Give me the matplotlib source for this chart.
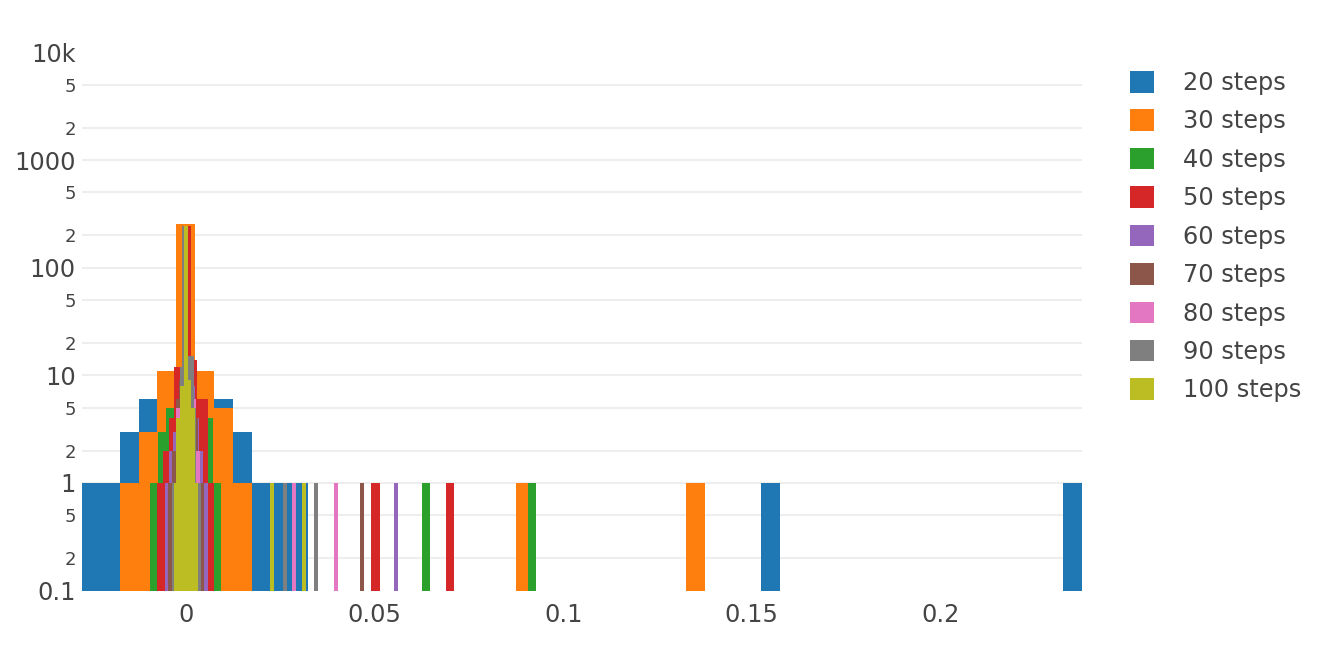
import matplotlib
matplotlib.use("Agg")
import matplotlib.pyplot as plt

# histogram bins: left edge of each bin and its count
labels = ["20 steps", "30 steps", "40 steps", "50 steps", "60 steps",
          "70 steps", "80 steps", "90 steps", "100 steps"]
bin_width = [0.005, 0.005, 0.0021, 0.0015, 0.001, 0.001, 0.001, 0.001, 0.001]

s20_left = [-0.0275, -0.0225, -0.0175, -0.0125, -0.0075, -0.0025, 0.0025,
            0.0075, 0.0125, 0.0175, 0.0225, 0.0275, 0.1525, 0.2325]
s20_count = [1, 1, 3, 6, 9, 240, 9, 6, 3, 1, 1, 1, 1, 1]

s30_left = [-0.0175, -0.0125, -0.0075, -0.0025, 0.0025, 0.0075, 0.0125,
            0.0875, 0.1325]
s30_count = [1, 3, 11, 255, 11, 5, 1, 1, 1]

s40_left = [-0.0095, -0.0074, -0.0053, -0.0032, -0.0011, 0.0010, 0.0031,
            0.0052, 0.0073, 0.0627, 0.0907]
s40_count = [1, 3, 5, 8, 240, 8, 5, 4, 1, 1, 1]

s50_left = [-0.0075, -0.006, -0.0045, -0.003, -0.0015, 0.0, 0.0015, 0.003,
            0.0045, 0.006, 0.049, 0.050, 0.069, 0.0695]
s50_count = [1, 2, 4, 12, 10, 245, 14, 6, 6, 1, 1, 1, 1, 1]

s60_left = [-0.0055, -0.0045, -0.0035, -0.0025, -0.0015, -0.0005, 0.0005,
            0.0015, 0.0025, 0.0035, 0.0048, 0.0553]
s60_count = [1, 2, 3, 5, 9, 240, 11, 8, 4, 2, 1, 1]

s70_left = [-0.0047, -0.0037, -0.0027, -0.0017, -0.0007, 0.0003, 0.0013,
            0.0023, 0.0038, 0.0462]
s70_count = [1, 2, 6, 9, 240, 12, 7, 4, 1, 1]

s80_left = [-0.0026, -0.0016, -0.0006, 0.0004, 0.0016, 0.0028, 0.0282,
            0.0393]
s80_count = [5, 9, 240, 12, 6, 2, 1, 1]

s90_left = [-0.0036, -0.0026, -0.0016, -0.0010, 0.0003, 0.0011, 0.0016,
            0.0030, 0.0257, 0.0340]
s90_count = [1, 4, 12, 245, 15, 15, 5, 1, 1, 1]

s100_left = [-0.0031, -0.0025, -0.0015, -0.0005, 0.0005, 0.0015, 0.0022,
             0.0224, 0.0308]
s100_count = [1, 4, 8, 245, 9, 5, 1, 1, 1]

series = [(s20_left, s20_count), (s30_left, s30_count), (s40_left, s40_count),
          (s50_left, s50_count), (s60_left, s60_count), (s70_left, s70_count),
          (s80_left, s80_count), (s90_left, s90_count), (s100_left, s100_count)]

colors = ["#1f77b4", "#ff7f0e", "#2ca02c", "#d62728", "#9467bd",
          "#8c564b", "#e377c2", "#7f7f7f", "#bcbd22"]

y_major = [0.1, 1, 10, 100, 1000, 10000]
y_major_text = ["0.1", "1", "10", "100", "1000", "10k"]
y_minor = [0.2, 0.5, 2, 5, 20, 50, 200, 500, 2000, 5000]
y_minor_text = ["2", "5"] * 5
x_ticks = [0, 0.05, 0.1, 0.15, 0.2]
x_tick_text = ["0", "0.05", "0.1", "0.15", "0.2"]

plt.rcParams["font.family"] = ["DejaVu Sans"]
W, H = 1318, 656
fig = plt.figure(figsize=(W / 100, H / 100), dpi=100)
ax = fig.add_axes([82 / W, 1 - 590.5 / H, 1000 / W, 538 / H])
ax.set_yscale("log")

for (left, count), w, c, lab in zip(series, bin_width, colors, labels):
    ax.bar(left, count, width=w, align="edge", color=c, linewidth=0,
           label=lab, zorder=2)

ax.set_xlim(-0.0275, 0.2375)
ax.set_ylim(0.1, 10000)

ax.set_yticks(y_major, y_major_text)
ax.set_yticks(y_minor, y_minor_text, minor=True)
ax.set_xticks(x_ticks, x_tick_text)

ax.tick_params(axis="y", which="major", length=0, pad=4.5, labelsize=17.3,
               labelcolor="#444444")
ax.tick_params(axis="y", which="minor", length=0, pad=4.5, labelsize=13,
               labelcolor="#444444")
ax.tick_params(axis="x", length=0, pad=9, labelsize=17.3, labelcolor="#444444")

ax.grid(axis="y", which="both", color="#eeeeee", linewidth=1.5, zorder=0)
ax.grid(axis="x", visible=False)
ax.set_axisbelow(True)
yt = ax.yaxis.get_major_ticks()
yt[0].gridline.set_visible(False)
yt[-1].gridline.set_visible(False)

for s in ax.spines.values():
    s.set_visible(False)

fig.legend(loc="upper left", bbox_to_anchor=(1130 / W, 1 - 71 / H),
           frameon=False, fontsize=17.3, handlelength=1.0, handleheight=1.0,
           handletextpad=1.2, labelspacing=0.6, borderpad=0,
           borderaxespad=0, labelcolor="#444444")

fig.savefig("out.png", dpi=100)
